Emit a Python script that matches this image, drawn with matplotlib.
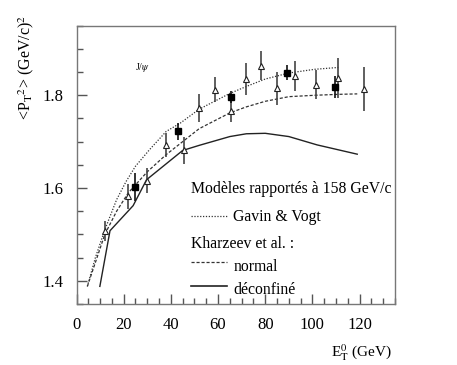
import matplotlib
matplotlib.use("Agg")
import matplotlib.pyplot as plt
from matplotlib.ticker import MultipleLocator

plt.rcParams['font.family'] = ['Liberation Serif', 'DejaVu Serif']
plt.rcParams['mathtext.fontset'] = 'stix'

# Data: open triangles
tri_x = [12.2, 21.9, 29.7, 38.1, 45.5, 51.9, 58.6, 65.3, 72.0, 78.4, 85.1, 92.7, 101.7, 111.0, 121.7]
tri_y = [1.507, 1.582, 1.616, 1.693, 1.681, 1.773, 1.812, 1.767, 1.835, 1.864, 1.815, 1.841, 1.823, 1.838, 1.814]
tri_err = [0.022, 0.027, 0.027, 0.025, 0.030, 0.030, 0.027, 0.024, 0.034, 0.032, 0.036, 0.032, 0.032, 0.043, 0.047]

# Data: filled squares
sq_x = [25.0, 43.0, 65.3, 89.4, 109.6]
sq_y = [1.603, 1.722, 1.796, 1.849, 1.818]
sq_err = [0.030, 0.018, 0.013, 0.016, 0.023]

# Models
gv_x = [4.6, 8, 12, 17, 21, 25, 31, 38, 44, 52, 65, 72, 80, 90, 101, 111]
gv_y = [1.388, 1.45, 1.51, 1.575, 1.614, 1.647, 1.683, 1.722, 1.74, 1.77, 1.804, 1.819, 1.835, 1.848, 1.856, 1.86]

kn_x = [4.6, 12, 17, 22, 30, 38, 45, 52, 65, 72, 80, 90, 101, 111, 119]
kn_y = [1.388, 1.50, 1.55, 1.59, 1.635, 1.672, 1.70, 1.728, 1.762, 1.775, 1.787, 1.797, 1.80, 1.802, 1.803]

kd_x = [9.9, 14.2, 24, 29.7, 45, 52, 65, 72, 80, 90, 102, 119]
kd_y = [1.388, 1.508, 1.562, 1.618, 1.681, 1.692, 1.711, 1.717, 1.718, 1.711, 1.693, 1.673]

fig = plt.figure(figsize=(4.57, 3.65), dpi=100)
ax = fig.add_axes([0.1674, 0.1671, 0.6969, 0.7625])

ax.plot(gv_x, gv_y, color='#333333', lw=0.9, linestyle=(0, (1, 1.3)))
ax.plot(kn_x, kn_y, color='#333333', lw=0.9, linestyle=(0, (2.5, 1.5)))
ax.plot(kd_x, kd_y, color='#222222', lw=1.0, linestyle='-')

ax.errorbar(tri_x, tri_y, yerr=tri_err, fmt='^', mfc='white', mec='#222222',
            ms=5, mew=0.8, ecolor='#444444', elinewidth=1.2, capsize=0, zorder=3)
ax.errorbar(sq_x, sq_y, yerr=sq_err, fmt='s', mfc='black', mec='black',
            ms=4, ecolor='#111111', elinewidth=1.2, capsize=0, zorder=4)

ax.set_xlim(0, 135)
ax.set_ylim(1.35, 1.95)
ax.xaxis.set_major_locator(MultipleLocator(20))
ax.xaxis.set_minor_locator(MultipleLocator(5))
ax.yaxis.set_major_locator(MultipleLocator(0.2))
ax.yaxis.set_minor_locator(MultipleLocator(0.05))
ax.tick_params(which='both', direction='in', top=False, right=False,
               color='#555555', labelsize=12)
ax.tick_params(which='major', length=7, width=1)
ax.tick_params(which='minor', length=4, width=1)
ax.tick_params(axis='x', pad=9)
ax.tick_params(axis='y', pad=9.5)
for s in ax.spines.values():
    s.set_color('#777777')
    s.set_linewidth(1.0)

ax.set_xticks([0, 20, 40, 60, 80, 100, 120])
ax.set_xticklabels(['0', '20', '40', '60', '80', '100', '120'])
ax.set_yticks([1.4, 1.6, 1.8])
ax.set_yticklabels(['1.4', '1.6', '1.8'])

fig.text(0.858, 0.034, r'E$_\mathrm{T}^\mathrm{0}$ (GeV)', ha='right', va='center', fontsize=11)
fig.text(0.058, 0.815, r'<P$_\mathrm{T}$$^2$> (GeV/c)$^2$', rotation=90,
         ha='center', va='center', fontsize=11.5)

ax.text(28, 1.859, r'J/$\psi$', fontsize=7, ha='center', va='center')

# legend-like texts
tf = ax.transAxes
def fx(px):
    return (px - 76.5) / (395 - 76.5)
def fy(py):
    return (304 - py) / (304 - 25.7)

fs = 11.3
ax.text(fx(190.7), fy(188.5), 'Modèles rapportés à 158 GeV/c', transform=tf,
        fontsize=fs, va='center', ha='left')
ax.plot([fx(190.7), fx(227)], [fy(216), fy(216)], transform=tf, color='#333333',
        lw=0.9, linestyle=(0, (1, 1.3)))
ax.text(fx(233.3), fy(216.5), 'Gavin & Vogt', transform=tf, fontsize=fs, va='center', ha='left')
ax.text(fx(190.7), fy(244), 'Kharzeev et al. :', transform=tf, fontsize=fs, va='center', ha='left')
ax.plot([fx(190.7), fx(227)], [fy(262), fy(262)], transform=tf, color='#333333',
        lw=0.9, linestyle=(0, (2.5, 1.5)))
ax.text(fx(233.3), fy(267.3), 'normal', transform=tf, fontsize=fs, va='center', ha='left')
ax.plot([fx(190.7), fx(227)], [fy(286), fy(286)], transform=tf, color='#222222', lw=1.2)
ax.text(fx(233.3), fy(290), 'déconfiné', transform=tf, fontsize=fs, va='center', ha='left')

fig.savefig('out.png', dpi=100)
